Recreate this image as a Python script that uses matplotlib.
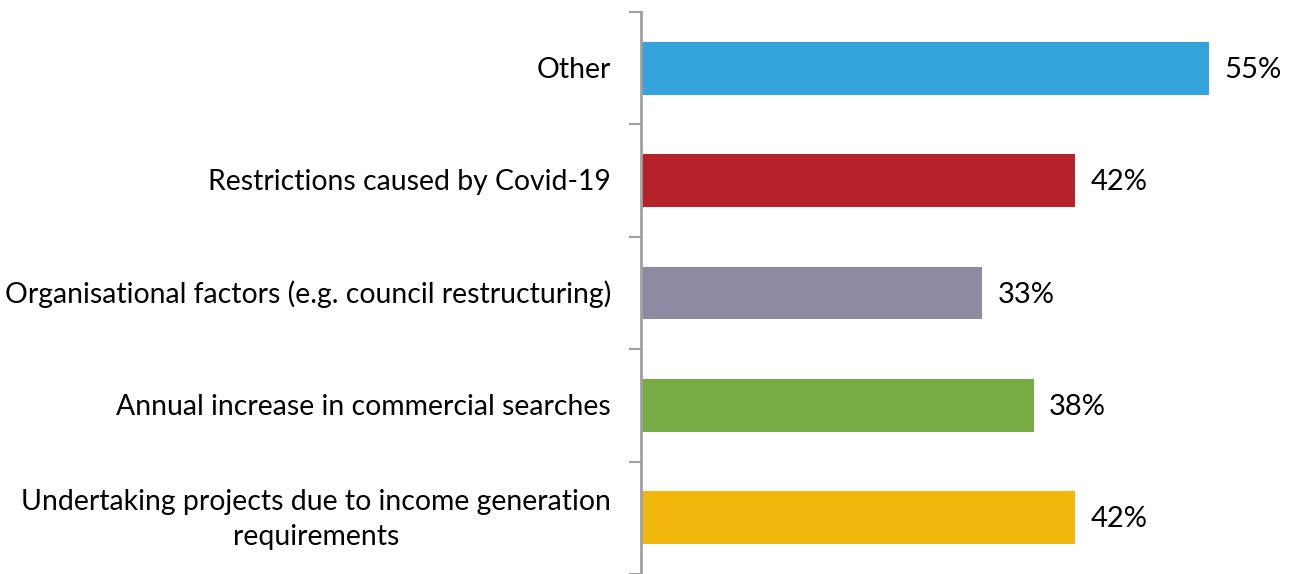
import matplotlib
matplotlib.use("Agg")
import matplotlib.pyplot as plt

categories = [
    "Other",
    "Restrictions caused by Covid-19",
    "Organisational factors (e.g. council restructuring)",
    "Annual increase in commercial searches",
    "Undertaking projects due to income generation\nrequirements",
]
values = [55, 42, 33, 38, 42]
value_labels = ["55%", "42%", "33%", "38%", "42%"]
colors = ["#34A3DB", "#B5222A", "#8F8AA4", "#77AB43", "#F2B70D"]

plt.rcParams["font.family"] = ["Lato", "DejaVu Sans"]

W, H = 1294, 574
fig = plt.figure(figsize=(W / 100, H / 100), dpi=100)
ax = fig.add_axes([641 / W, 0, 1 - 641 / W, (H - 12) / H])

n = len(categories)
pos = list(range(n))
ax.barh(pos, values, height=0.47, color=colors, zorder=2)
ax.set_ylim(n - 0.5, -0.5)
ax.set_xlim(0, (W - 641) / 10.33)

for p, v, lab in zip(pos, values, value_labels):
    ax.text(v + 1.5, p + 0.015, lab, va="center", ha="left", fontsize=21,
            color="#000000")

# category labels, right-aligned against the axis
ax.set_yticks([])
for p, cat in zip(pos, categories):
    ax.text(-2.9, p + 0.015, cat, va="center", ha="right", multialignment="center",
            fontsize=20.4, color="#000000", linespacing=1.45)

# boundary ticks between categories
ax.set_yticks([i - 0.5 for i in range(n + 1)], minor=True)
ax.tick_params(axis="y", which="minor", length=9, width=1.5, color="#A0A0A0")
ax.tick_params(axis="y", which="major", length=0)
ax.set_xticks([])

for s in ["top", "right", "bottom"]:
    ax.spines[s].set_visible(False)
ax.spines["left"].set_color("#A0A0A0")
ax.spines["left"].set_linewidth(2)

fig.savefig("out.png", dpi=100)
